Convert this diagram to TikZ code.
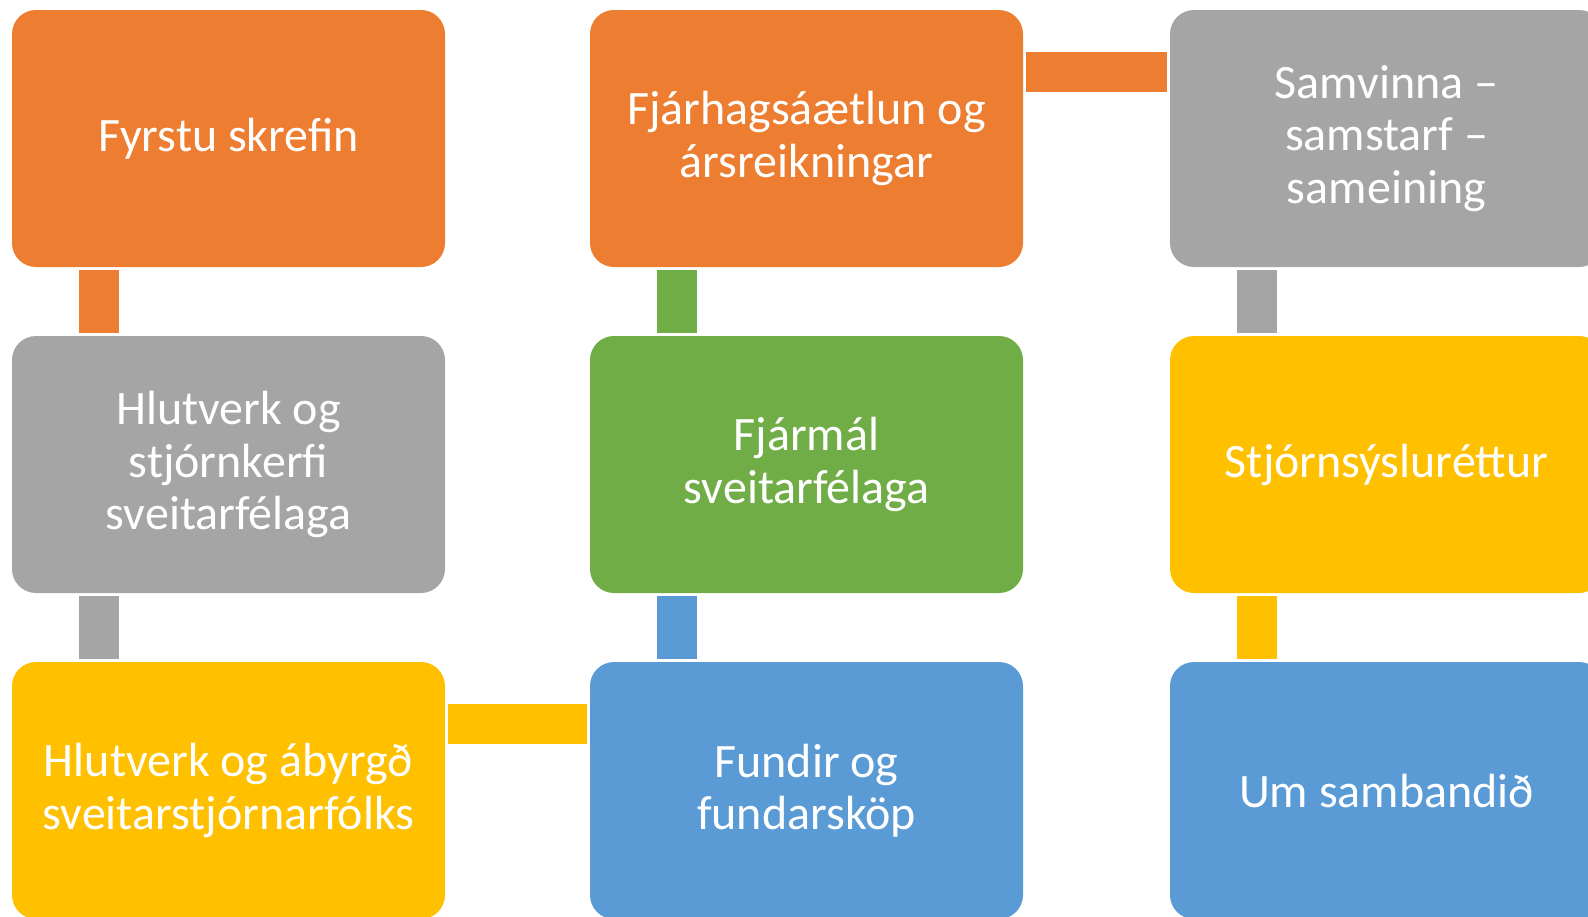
\documentclass[tikz,border=0pt]{standalone}
\usepackage{fontspec}
\setmainfont{Carlito}
\usepackage{tikz}
\usepackage{xcolor}
\usetikzlibrary{calc}

\definecolor{orng}{HTML}{ED7D31}
\definecolor{gry}{HTML}{A5A5A5}
\definecolor{grn}{HTML}{70AD47}
\definecolor{ylw}{HTML}{FFC000}
\definecolor{blu}{HTML}{5B9BD5}

\tikzset{
  box/.style={fill=#1, rounded corners=12pt, minimum width=216.5pt, minimum height=128.5pt,
    inner sep=0pt, text=white, align=center, font=\fontsize{24}{26.3}\selectfont},
  link/.style={draw=#1, line width=20pt},
}

\begin{document}
\begin{tikzpicture}[x=0.5pt,y=-0.5pt]
%% frame
\useasboundingbox (0,0) rectangle (1588,916);
\clip (0,0) rectangle (1588,916);
%% column 1
\node[box=orng] (first) at (228.5,138.5) {Fyrstu skrefin};
\node[box=gry] (roles) at (228.5,464.5) {Hlutverk og\\stjórnkerfi\\sveitarfélaga};
\node[box=ylw] (duties) at (228.5,790.5) {Hlutverk og ábyrgð\\sveitarstjórnarfólks};
%% column 2
\node[box=orng] (budget) at (806.5,138.5) {Fjárhagsáætlun og\\ársreikningar};
\node[box=grn] (finance) at (806.5,464.5) {Fjármál\\sveitarfélaga};
\node[box=blu] (meetings) at (806.5,790.5) {Fundir og\\fundarsköp};
%% column 3
\node[box=gry] (coop) at (1386.5,138.5) {Samvinna –\\samstarf –\\sameining};
\node[box=ylw] (admin) at (1386.5,464.5) {Stjórnsýsluréttur};
\node[box=blu] (union) at (1386.5,790.5) {Um sambandið};
%% links
\draw[link=orng] ($(first.south west)+(87,3)$) -- ($(roles.north west)+(87,-3)$);
\draw[link=gry] ($(roles.south west)+(87,3)$) -- ($(duties.north west)+(87,-3)$);
\draw[link=ylw] ($(duties.north east)+(3,62)$) -- ($(meetings.north west)+(-3,62)$);
\draw[link=blu] ($(meetings.north west)+(87,-3)$) -- ($(finance.south west)+(87,3)$);
\draw[link=grn] ($(finance.north west)+(87,-3)$) -- ($(budget.south west)+(87,3)$);
\draw[link=orng] ($(budget.north east)+(3,62)$) -- ($(coop.north west)+(-3,62)$);
\draw[link=gry] ($(coop.south west)+(87,3)$) -- ($(admin.north west)+(87,-3)$);
\draw[link=ylw] ($(admin.south west)+(87,3)$) -- ($(union.north west)+(87,-3)$);

\end{tikzpicture}
\end{document}
